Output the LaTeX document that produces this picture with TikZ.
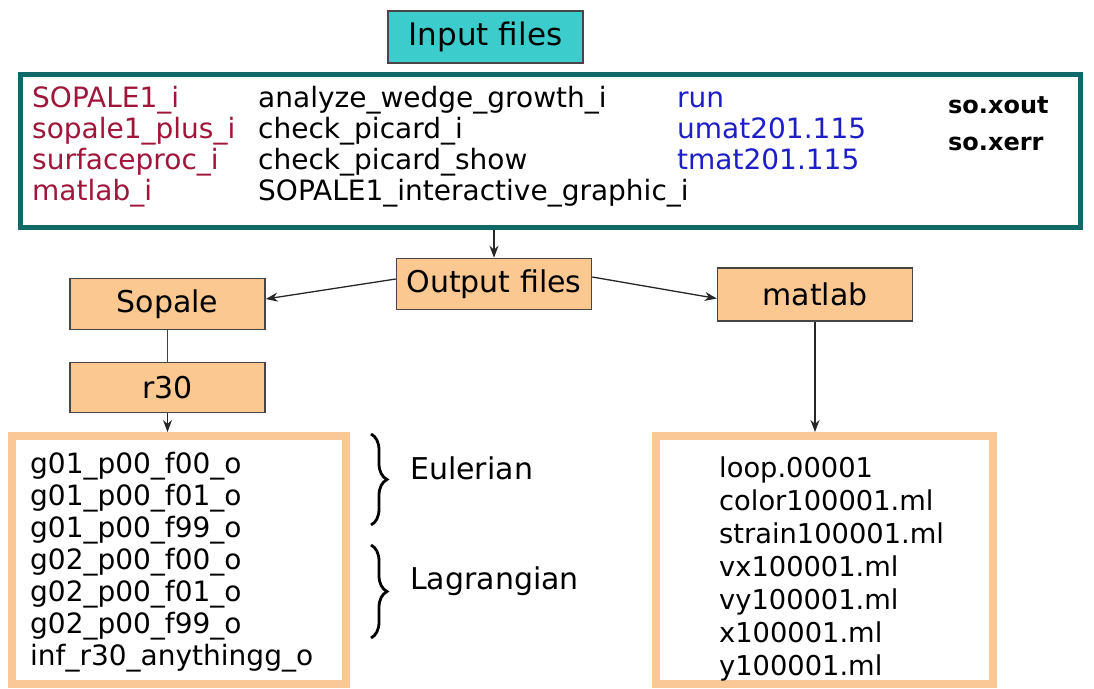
\documentclass[tikz,border=0pt]{standalone}
\usepackage{fontspec}
\setmainfont{DejaVu Sans}
\usetikzlibrary{arrows.meta,decorations.pathreplacing}
\definecolor{tealb}{RGB}{16,104,104}
\definecolor{cyanf}{RGB}{60,204,204}
\definecolor{peach}{RGB}{251,200,145}
\definecolor{peachb}{RGB}{250,200,150}
\definecolor{dred}{RGB}{160,22,58}
\definecolor{dblue}{RGB}{30,30,200}
\definecolor{edgec}{RGB}{70,70,70}
\tikzset{
 box/.style={draw=edgec, line width=1.5pt, fill=peach, minimum width=195pt, minimum height=51pt, inner sep=0pt, font=\fontsize{30}{36}\selectfont},
 txt/.style={anchor=base west, inner sep=0pt, font=\fontsize{28}{32}\selectfont},
 lbox/.style={draw=peachb, line width=8pt, inner sep=0pt},
 arr/.style={draw=black!85, -{Stealth[length=12pt,width=9pt]}, line width=1.3pt},
 brc/.style={decorate, decoration={brace, amplitude=16pt}, line width=2.8pt},
}
\begin{document}
\begin{tikzpicture}[x=1pt,y=-1pt]
\useasboundingbox (0,0) rectangle (1094,688);
% boxes
\node[box, fill=cyanf, minimum height=52pt, font=\fontsize{31}{36}\selectfont] (inp) at (485.5,37) {Input files};
\node[draw=tealb, line width=5pt, minimum width=1060pt, minimum height=153pt, inner sep=0pt] (big) at (550.5,151) {};
\node[box] (out) at (494,284) {Output files};
\node[box] (sop) at (167.5,304) {Sopale};
\node[box, minimum height=50pt] (r30) at (167.5,387.5) {r30};
\node[box, minimum height=53pt] (mat) at (815,294.5) {matlab};
\node[lbox, minimum width=334pt, minimum height=248pt] (ll) at (179,560) {};
\node[lbox, minimum width=337pt, minimum height=248pt] (rl) at (824.5,560) {};
% input file texts
\foreach \t [count=\i] in {SOPALE1\_i, sopale1\_plus\_i, surfaceproc\_i, matlab\_i}
  \node[txt, text=dred] (c1\i) at (32,{76+31*\i}) {\t};
\foreach \t [count=\i] in {analyze\_wedge\_growth\_i, check\_picard\_i, check\_picard\_show, SOPALE1\_interactive\_graphic\_i}
  \node[txt] (c2\i) at (258,{76+31*\i}) {\t};
\foreach \t [count=\i] in {run, umat201.115, tmat201.115}
  \node[txt, text=dblue] (c3\i) at (677,{76+31*\i}) {\t};
\node[txt, font=\fontsize{24}{28}\selectfont\bfseries] (c41) at (948,113) {so.xout};
\node[txt, font=\fontsize{24}{28}\selectfont\bfseries] (c42) at (948,150) {so.xerr};
% left list
\foreach \t [count=\i] in {g01\_p00\_f00\_o, g01\_p00\_f01\_o, g01\_p00\_f99\_o, g02\_p00\_f00\_o, g02\_p00\_f01\_o, g02\_p00\_f99\_o, inf\_r30\_anythingg\_o}
  \node[txt] (l\i) at (30,{441+32*\i}) {\t};
% right list
\foreach \t [count=\i] in {loop.00001, color100001.ml, strain100001.ml, vx100001.ml, vy100001.ml, x100001.ml, y100001.ml}
  \node[txt, font=\fontsize{27.3}{32}\selectfont] (r\i) at (719,{444+33*\i}) {\t};
% braces
\coordinate (b1s) at (371,434);
\coordinate (b1e) at (371,525);
\coordinate (b2s) at (371,545);
\coordinate (b2e) at (371,638);
\draw[brc] (b1s) -- (b1e);
\draw[brc] (b2s) -- (b2e);
\node[txt, font=\fontsize{30}{36}\selectfont] (eul) at (410,479) {Eulerian};
\node[txt, font=\fontsize{30}{36}\selectfont] (lag) at (410,589) {Lagrangian};
% connectors
\draw[arr] (big.south -| out.north) -- (out.north);
\draw[arr] ([yshift=5pt]out.west) -- ([yshift=5pt]sop.east);
\draw[arr] ([yshift=7pt]out.east) -- ([yshift=-4pt]mat.west);
\draw[line width=1.6pt, draw=black!75] (sop.south -| r30.north) -- (r30.north);
\draw[arr] (r30.south) -- (r30.south |- ll.north);
\draw[arr] (mat.south) -- (mat.south |- rl.north);
\end{tikzpicture}
\end{document}
